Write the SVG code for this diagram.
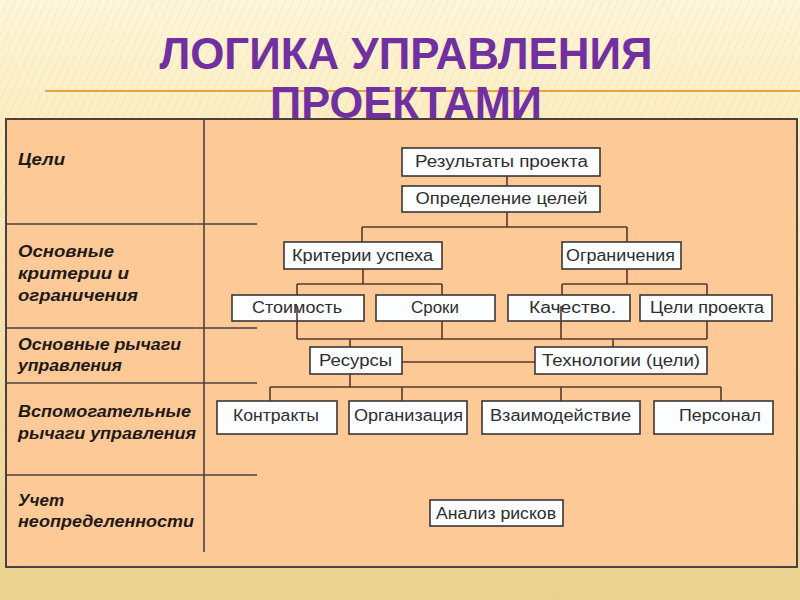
<svg xmlns="http://www.w3.org/2000/svg" width="800" height="600" viewBox="0 0 800 600">
<defs>
<linearGradient id="bg" x1="0" y1="0" x2="0" y2="1">
<stop offset="0" stop-color="#fef6da"/>
<stop offset="0.2" stop-color="#fcedc2"/>
<stop offset="1" stop-color="#ead38f"/>
</linearGradient>
<pattern id="hatch" width="7" height="7" patternUnits="userSpaceOnUse" patternTransform="rotate(25)">
<line x1="0" y1="0" x2="0" y2="7" stroke="#d9bf78" stroke-width="1.2"/>
</pattern>
<style>
.title{font-family:"Liberation Sans",Arial,sans-serif;font-weight:bold;font-size:45px;fill:#7030a0;text-anchor:middle}
.lbl{font-family:"Liberation Sans",Arial,sans-serif;font-weight:bold;font-style:italic;font-size:16px;fill:#1e1a1a}
.box rect{fill:#fcfdff;stroke:#3a3535;stroke-width:1.6}
.box text{font-family:"Liberation Sans",Arial,sans-serif;font-size:16px;fill:#2e2e2e;text-anchor:middle}
.grid line{stroke:#4a4040;stroke-width:1.6}
.conn line{stroke:#55392b;stroke-width:1.6}
</style>
</defs>
<rect x="0" y="0" width="800" height="600" fill="url(#bg)"/>
<rect x="0" y="0" width="800" height="600" fill="url(#hatch)" opacity="0.3"/>
<line x1="45" y1="91" x2="800" y2="91" stroke="#e7a53b" stroke-width="2"/>
<text class="title" x="406" y="69" textLength="493" lengthAdjust="spacingAndGlyphs">ЛОГИКА УПРАВЛЕНИЯ</text>
<text class="title" x="406" y="118" textLength="272" lengthAdjust="spacingAndGlyphs">ПРОЕКТАМИ</text>

<rect x="6" y="119" width="791" height="448" fill="#fdc996" stroke="#4a4040" stroke-width="2"/>
<g class="grid">
<line x1="204" y1="119" x2="204" y2="552"/>
<line x1="6" y1="224" x2="257" y2="224"/>
<line x1="6" y1="328" x2="257" y2="328"/>
<line x1="6" y1="383" x2="257" y2="383"/>
<line x1="6" y1="475" x2="257" y2="475"/>
</g>
<g id="labels">
<text class="lbl" x="18" y="165" textLength="47" lengthAdjust="spacingAndGlyphs">Цели</text>
<text class="lbl" x="18" y="257" textLength="96" lengthAdjust="spacingAndGlyphs">Основные</text>
<text class="lbl" x="18" y="279" textLength="111" lengthAdjust="spacingAndGlyphs">критерии и</text>
<text class="lbl" x="18" y="301" textLength="120" lengthAdjust="spacingAndGlyphs">ограничения</text>
<text class="lbl" x="18" y="350" textLength="163" lengthAdjust="spacingAndGlyphs">Основные рычаги</text>
<text class="lbl" x="18" y="371" textLength="104" lengthAdjust="spacingAndGlyphs">управления</text>
<text class="lbl" x="18" y="417" textLength="173" lengthAdjust="spacingAndGlyphs">Вспомогательные</text>
<text class="lbl" x="18" y="439" textLength="178" lengthAdjust="spacingAndGlyphs">рычаги управления</text>
<text class="lbl" x="18" y="506" textLength="46" lengthAdjust="spacingAndGlyphs">Учет</text>
<text class="lbl" x="18" y="527" textLength="176" lengthAdjust="spacingAndGlyphs">неопределенности</text>
</g>

<g id="connectors" class="conn">
<line x1="507" y1="176" x2="507" y2="186"/>
<line x1="507" y1="212" x2="507" y2="227"/>
<line x1="362" y1="227" x2="627" y2="227"/>
<line x1="362" y1="227" x2="362" y2="242"/>
<line x1="627" y1="227" x2="627" y2="242"/>
<line x1="363" y1="269" x2="363" y2="284"/>
<line x1="297" y1="284" x2="442" y2="284"/>
<line x1="297" y1="284" x2="297" y2="295"/>
<line x1="442" y1="284" x2="442" y2="295"/>
<line x1="627" y1="269" x2="627" y2="284"/>
<line x1="562" y1="284" x2="707" y2="284"/>
<line x1="562" y1="284" x2="562" y2="295"/>
<line x1="707" y1="284" x2="707" y2="295"/>
<line x1="442" y1="321" x2="442" y2="339"/>
<line x1="707" y1="321" x2="707" y2="339"/>
<line x1="297" y1="339" x2="707" y2="339"/>
<line x1="350" y1="339" x2="350" y2="347"/>
<line x1="613" y1="339" x2="613" y2="347"/>
<line x1="402" y1="362" x2="535" y2="362"/>
<line x1="350" y1="374" x2="350" y2="387"/>
<line x1="270" y1="387" x2="721" y2="387"/>
<line x1="270" y1="387" x2="270" y2="401"/>
<line x1="402" y1="387" x2="402" y2="401"/>
<line x1="561" y1="387" x2="561" y2="401"/>
<line x1="721" y1="387" x2="721" y2="401"/>
</g>

<g id="n-results" class="box"><rect x="402" y="148" width="198" height="28"/><text x="501.5" y="167" textLength="173" lengthAdjust="spacingAndGlyphs">Результаты проекта</text></g>
<g id="n-goals" class="box"><rect x="402" y="186" width="198" height="26"/><text x="501.5" y="204" textLength="172" lengthAdjust="spacingAndGlyphs">Определение целей</text></g>
<g id="n-criteria" class="box"><rect x="284" y="242" width="158" height="27"/><text x="362.5" y="261" textLength="141" lengthAdjust="spacingAndGlyphs">Критерии успеха</text></g>
<g id="n-limits" class="box"><rect x="562" y="242" width="119" height="27"/><text x="620.5" y="261" textLength="109" lengthAdjust="spacingAndGlyphs">Ограничения</text></g>
<g id="n-cost" class="box"><rect x="232" y="295" width="132" height="26"/><text x="297" y="313" textLength="90" lengthAdjust="spacingAndGlyphs">Стоимость</text></g>
<g id="n-terms" class="box"><rect x="376" y="295" width="119" height="26"/><text x="435" y="313" textLength="48" lengthAdjust="spacingAndGlyphs">Сроки</text></g>
<g id="n-quality" class="box"><rect x="508" y="295" width="122" height="26"/><text x="572.5" y="313" textLength="87" lengthAdjust="spacingAndGlyphs">Качество.</text></g>
<g id="n-projgoals" class="box"><rect x="640" y="295" width="132" height="26"/><text x="707" y="313" textLength="114" lengthAdjust="spacingAndGlyphs">Цели проекта</text></g>
<g id="connectors-through" class="conn">
<line x1="297" y1="306" x2="297" y2="339"/>
<line x1="561" y1="306" x2="561" y2="339"/>
</g>
<g id="n-resources" class="box"><rect x="310" y="347" width="92" height="27"/><text x="355.5" y="366" textLength="73" lengthAdjust="spacingAndGlyphs">Ресурсы</text></g>
<g id="n-tech" class="box"><rect x="535" y="347" width="172" height="27"/><text x="621" y="366" textLength="158" lengthAdjust="spacingAndGlyphs">Технологии (цели)</text></g>
<g id="n-contracts" class="box"><rect x="217" y="401" width="120" height="33"/><text x="276" y="421" textLength="86" lengthAdjust="spacingAndGlyphs">Контракты</text></g>
<g id="n-org" class="box"><rect x="349" y="401" width="118" height="33"/><text x="408.5" y="421" textLength="109" lengthAdjust="spacingAndGlyphs">Организация</text></g>
<g id="n-interaction" class="box"><rect x="482" y="401" width="158" height="33"/><text x="560.5" y="421" textLength="141" lengthAdjust="spacingAndGlyphs">Взаимодействие</text></g>
<g id="n-staff" class="box"><rect x="654" y="401" width="119" height="33"/><text x="720" y="421" textLength="82" lengthAdjust="spacingAndGlyphs">Персонал</text></g>
<g id="n-risk" class="box"><rect x="430" y="500" width="133" height="26"/><text x="496" y="519" textLength="120" lengthAdjust="spacingAndGlyphs">Анализ рисков</text></g>
</svg>
